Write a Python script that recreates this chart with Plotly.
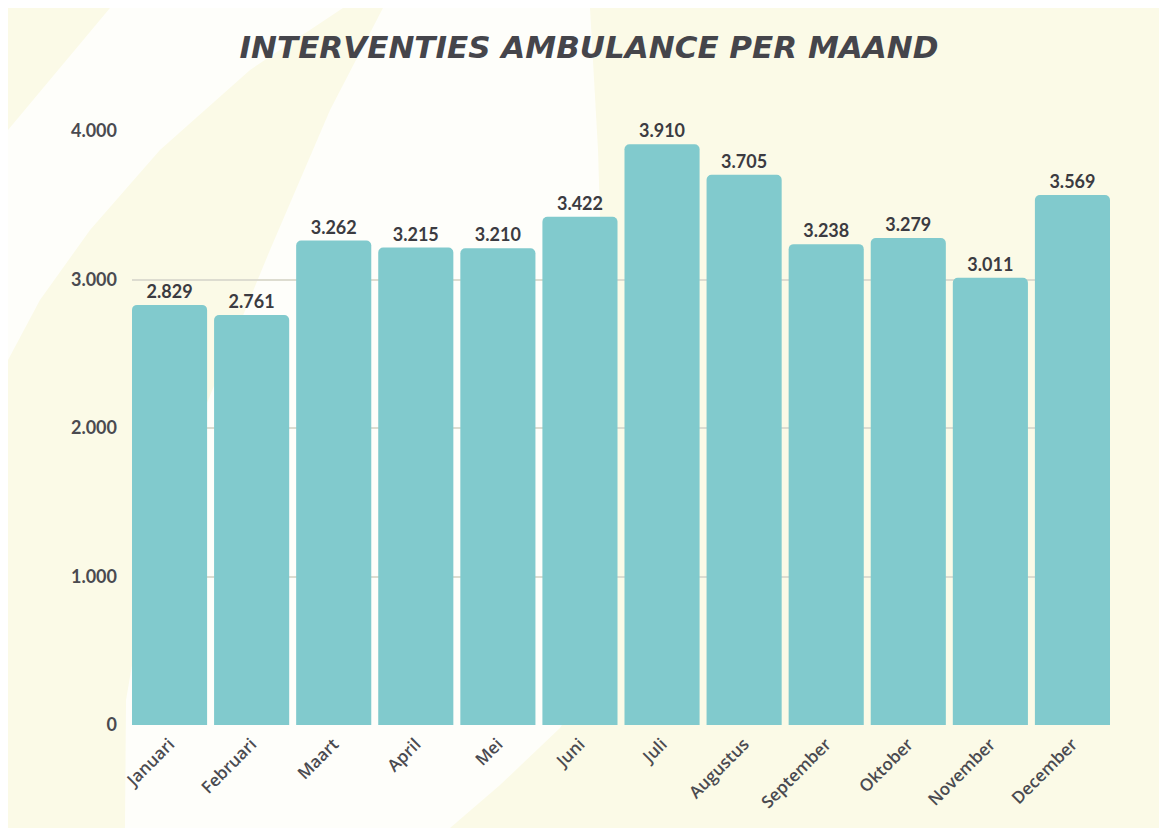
import plotly.graph_objects as go

maanden = ["Januari", "Februari", "Maart", "April", "Mei", "Juni", "Juli",
           "Augustus", "September", "Oktober", "November", "December"]
interventies = [2829, 2761, 3262, 3215, 3210, 3422, 3910, 3705, 3238, 3279, 3011, 3569]
y_ticks = [0, 1000, 2000, 3000, 4000]

# the page puts the figure 8px in from the top-left corner
OFF = 8
W, H = 1167 - OFF, 828 - OFF
L, R, T, B = 132, 1110, 131, 725   # plot area in page pixels
GAP = 0.085
CREAM = "#fbfae7"
PALE = "#fefefa"
INK = "#45454b"


def px(x, y):
    # page pixel -> paper coordinates
    return (x - L) / (R - L), (B - y) / (B - T)


def path(points):
    parts = []
    for i, (x, y) in enumerate(points):
        a, b = px(x, y)
        parts.append(("M" if i == 0 else "L") + f"{a:.4f},{b:.4f}")
    return " ".join(parts) + " Z"


shapes = [
    dict(type="path", path=path([(110, 8), (343, 8), (250, 70), (160, 150), (90, 230),
                                 (40, 300), (8, 360), (8, 130)])),
    dict(type="path", path=path([(383, 8), (590, 8), (598, 150), (604, 350), (602, 550),
                                 (585, 690), (560, 728), (500, 785), (450, 828),
                                 (125, 828), (126, 700), (150, 560), (200, 420),
                                 (270, 250), (330, 110)])),
]
for s in shapes:
    s.update(xref="paper", yref="paper", fillcolor=PALE, line=dict(width=0), layer="below")

fig = go.Figure(go.Bar(
    x=maanden,
    y=interventies,
    marker=dict(color="#81cacd", cornerradius=5, line=dict(width=0)),
    text=interventies,
    texttemplate="%{y:,d}",
    textposition="outside",
    textfont=dict(family="Lato", size=18, color="#3b3b41", weight="bold"),
    cliponaxis=False,
))

fig.update_layout(
    width=W, height=H,
    margin=dict(l=L - OFF, r=1167 - R, t=T - OFF, b=828 - B, pad=0),
    paper_bgcolor=CREAM,
    plot_bgcolor="rgba(0,0,0,0)",
    separators=",.",
    bargap=GAP,
    showlegend=False,
    shapes=shapes,
    title=dict(
        text="INTERVENTIES AMBULANCE PER MAAND",
        x=(589 - OFF) / W, xref="container", xanchor="center",
        y=1 - (47 - OFF) / H, yref="container", yanchor="middle",
        font=dict(family="DejaVu Sans", size=31, color=INK, weight="bold", style="italic"),
    ),
)

fig.update_xaxes(
    range=[-0.5 + GAP / 2, len(maanden) - 0.5 - GAP / 2],
    tickangle=-45,
    tickfont=dict(family="Open Sans", size=17, color="#4a4a50", weight=600),
    showgrid=False, showline=False, zeroline=False, ticks="",
    ticklabelstandoff=5,
)
fig.update_yaxes(
    range=[0, 4000],
    tickvals=y_ticks,
    tickformat=",d",
    tickfont=dict(family="Lato", size=18, color="#4a4a50", weight="bold"),
    showgrid=True, gridcolor="#dddcd0", gridwidth=1.5,
    zeroline=False, showline=False, ticks="",
    ticklabelstandoff=14,
)

fig.write_html("out.html")
